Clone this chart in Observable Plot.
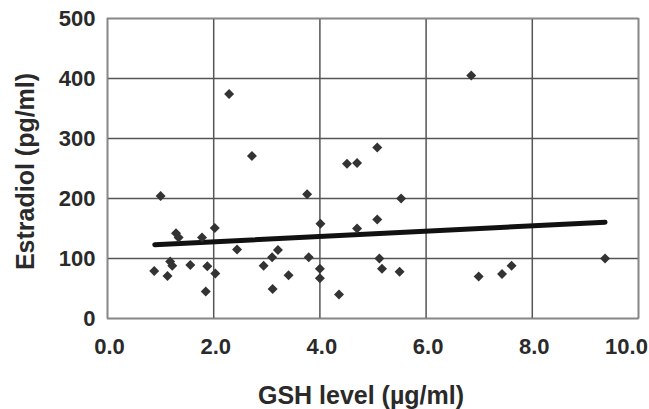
<!DOCTYPE html>
<html>
<head>
<meta charset="utf-8">
<script src="https://cdn.jsdelivr.net/npm/d3@7"></script>
<script src="https://cdn.jsdelivr.net/npm/@observablehq/plot@0.6"></script>
<style>
  html, body { margin: 0; padding: 0; background: #fff; }
</style>
</head>
<body>
<div id="chart"></div>
<script>
const gshLevel = [0.88, 1.0, 1.13, 1.18, 1.22, 1.29, 1.34, 1.56, 1.78, 1.85, 1.88, 2.02, 2.03, 2.29, 2.44, 2.72, 2.94, 3.10, 3.11, 3.21, 3.41, 3.76, 3.79, 4.01, 4.0, 4.0, 4.36, 4.51, 4.70, 4.70, 5.08, 5.08, 5.12, 5.17, 5.50, 5.53, 6.85, 6.99, 7.43, 7.61, 9.37];
const estradiol = [79, 204, 71, 95, 88, 142, 135, 89, 135, 45, 87, 151, 75, 374, 115, 271, 88, 102, 49, 114, 72, 207, 102, 158, 83, 67, 40, 258, 259, 150, 285, 165, 100, 83, 78, 200, 405, 70, 74, 88, 100];
const trendX = [0.89, 9.37];
const trendY = [123, 160.5];
const xTicks = [0, 2, 4, 6, 8, 10];
const yTicks = [0, 100, 200, 300, 400, 500];
const xTitle = "GSH level (µg/ml)";
const yTitle = "Estradiol (pg/ml)";

const points = gshLevel.map((x, i) => ({x, y: estradiol[i]}));
const trend = trendX.map((x, i) => ({x, y: trendY[i]}));
const xTicksInner = xTicks.filter(t => t < 10);
const xTicksLast = xTicks.filter(t => t >= 10);

const tickText = {fontSize: 22, fontWeight: "bold", fill: "#2a2a2a", label: null, tickSize: 0};

const chart = Plot.plot({
  width: 649,
  height: 409,
  marginLeft: 107,
  marginRight: 11,
  marginTop: 18,
  marginBottom: 91,
  style: {fontFamily: "'Liberation Sans', Arial, sans-serif", fontWeight: "bold", color: "#2a2a2a", background: "#fff"},
  x: {domain: [0, 10]},
  y: {domain: [0, 500]},
  marks: [
    Plot.gridX(xTicks, {stroke: "#555", strokeOpacity: 1, strokeWidth: 1.5}),
    Plot.gridY(yTicks, {stroke: "#555", strokeOpacity: 1, strokeWidth: 1.5}),
    Plot.frame({stroke: "#888", strokeWidth: 1.5}),
    Plot.axisX(xTicksInner, {...tickText, tickPadding: 20, dx: 2, tickFormat: d => d.toFixed(1)}),
    Plot.axisX(xTicksLast, {...tickText, tickPadding: 20, dx: -12, tickFormat: d => d.toFixed(1)}),
    Plot.axisY(yTicks, {...tickText, tickPadding: 12, tickFormat: d => String(d)}),
    Plot.line(trend, {x: "x", y: "y", stroke: "#111", strokeWidth: 5}),
    Plot.dot(points, {x: "x", y: "y", symbol: "diamond2", r: 4.5, fill: "#333", stroke: "none"}),
    Plot.text([xTitle], {frameAnchor: "bottom", textAnchor: "middle", dx: -12, dy: 77, lineAnchor: "middle", fontSize: 25, fontWeight: "bold", fill: "#2a2a2a"}),
    Plot.text([yTitle], {frameAnchor: "left", textAnchor: "middle", dx: -82, dy: 3, rotate: -90, lineAnchor: "middle", fontSize: 25, fontWeight: "bold", fill: "#2a2a2a"})
  ]
});
document.getElementById("chart").appendChild(chart);
</script>
</body>
</html>
